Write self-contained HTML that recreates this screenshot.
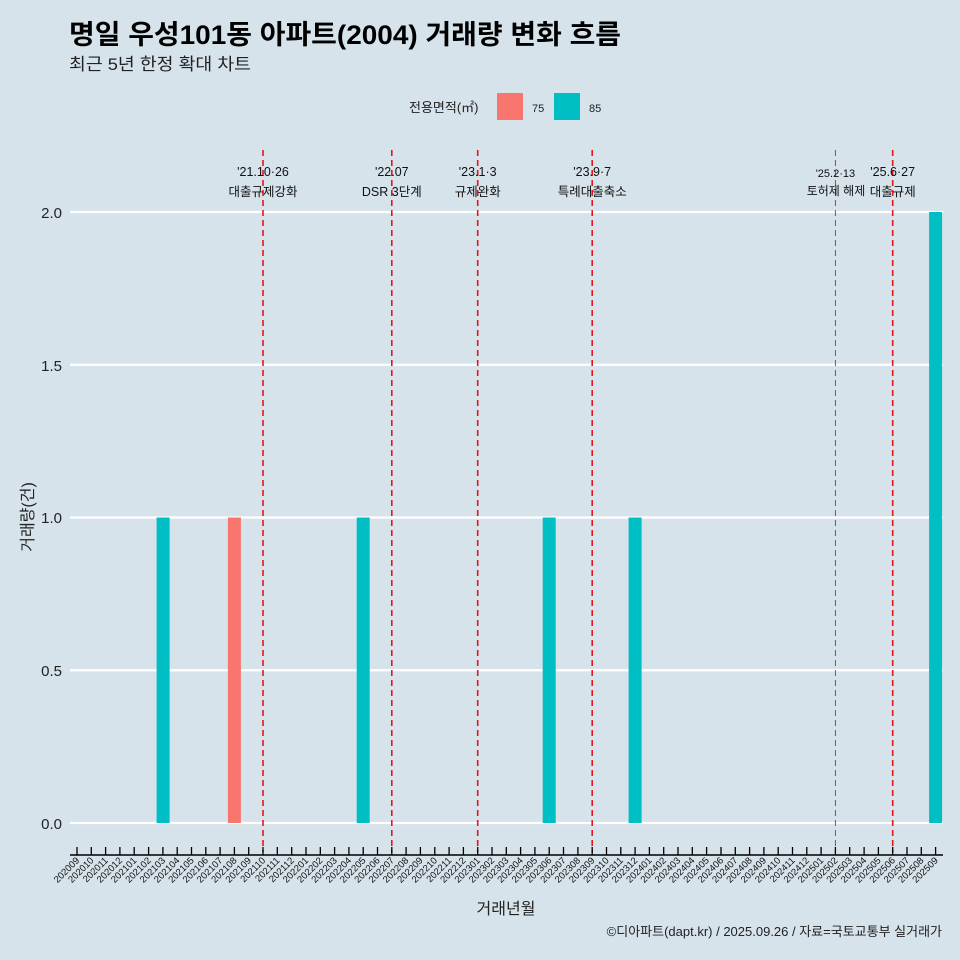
<!DOCTYPE html>
<html><head><meta charset="utf-8"><style>
body{margin:0;background:#d6e3ea}
svg{display:block;font-family:"Liberation Sans","Noto Sans CJK KR",sans-serif}
</style></head><body>
<svg width="960" height="960" viewBox="0 0 960 960">
<rect width="960" height="960" fill="#d6e3ea"/>
<text x="69" y="44" font-size="27" font-weight="bold" fill="#000" textLength="552" lengthAdjust="spacingAndGlyphs">명일 우성101동 아파트(2004) 거래량 변화 흐름</text>
<text x="69" y="70" font-size="17" fill="#222" textLength="182" lengthAdjust="spacingAndGlyphs">최근 5년 한정 확대 차트</text>
<text x="409" y="112" font-size="13" fill="#222">전용면적(㎡)</text>
<rect x="497" y="93" width="26" height="27" fill="#f8766d"/>
<text x="532" y="112" font-size="11" fill="#222">75</text>
<rect x="554" y="93" width="26" height="27" fill="#00bfc4"/>
<text x="589" y="112" font-size="11" fill="#222">85</text>
<g stroke="#fff" stroke-width="2.2">
<line x1="70" x2="943" y1="212" y2="212"/><line x1="70" x2="943" y1="364.75" y2="364.75"/>
<line x1="70" x2="943" y1="517.5" y2="517.5"/><line x1="70" x2="943" y1="670.25" y2="670.25"/>
<line x1="70" x2="943" y1="823" y2="823"/></g>
<g font-size="15" fill="#222" text-anchor="end">
<text x="62" y="218">2.0</text><text x="62" y="371">1.5</text><text x="62" y="523">1.0</text><text x="62" y="676">0.5</text><text x="62" y="829">0.0</text></g>
<text transform="translate(33,517) rotate(-90)" font-size="16" text-anchor="middle" fill="#222">거래량(건)</text>
<text x="506" y="914" font-size="16" text-anchor="middle" fill="#222">거래년월</text>
<text x="942" y="936" font-size="13" text-anchor="end" fill="#222">©디아파트(dapt.kr) / 2025.09.26 / 자료=국토교통부 실거래가</text>
<g>
<rect x="156.6" y="517.5" width="13" height="305.5" fill="#00bfc4"/>
<rect x="227.9" y="517.5" width="13" height="305.5" fill="#f8766d"/>
<rect x="356.7" y="517.5" width="13" height="305.5" fill="#00bfc4"/>
<rect x="542.7" y="517.5" width="13" height="305.5" fill="#00bfc4"/>
<rect x="628.6" y="517.5" width="13" height="305.5" fill="#00bfc4"/>
<rect x="929.1" y="212" width="13" height="611" fill="#00bfc4"/>
</g>
<g stroke="#e8141c" stroke-dasharray="6,4" stroke-width="1.6">
<line x1="263" x2="263" y1="150" y2="852"/><line x1="391.8" x2="391.8" y1="150" y2="852"/>
<line x1="477.7" x2="477.7" y1="150" y2="852"/><line x1="592.2" x2="592.2" y1="150" y2="852"/>
<line x1="835.4" x2="835.4" y1="150" y2="852" stroke-width="0.9"/><line x1="892.7" x2="892.7" y1="150" y2="852"/>
</g>
<g font-size="12.5" fill="#111" text-anchor="middle">
<text x="263" y="176">'21.10·26</text><text x="263" y="196">대출규제강화</text>
<text x="391.8" y="176">'22.07</text><text x="391.8" y="196">DSR 3단계</text>
<text x="477.7" y="176">'23.1·3</text><text x="477.7" y="196">규제완화</text>
<text x="592.2" y="176">'23.9·7</text><text x="592.2" y="196">특례대출축소</text>
<text x="835.4" y="177" font-size="11">'25.2·13</text><text x="836" y="195" font-size="12">토허제 해제</text>
<text x="892.7" y="176">'25.6·27</text><text x="892.7" y="196">대출규제</text>
</g>
<line x1="70" x2="943" y1="855" y2="855" stroke="#000" stroke-width="1.5"/>
<g stroke="#000" stroke-width="1.3">
<path d="M77 847V855M91.3 847V855M105.6 847V855M119.9 847V855M134.2 847V855M148.6 847V855M162.9 847V855M177.2 847V855M191.5 847V855M205.8 847V855M220.1 847V855M234.4 847V855M248.7 847V855M263 847V855M277.3 847V855M291.7 847V855M306 847V855M320.3 847V855M334.6 847V855M348.9 847V855M363.2 847V855M377.5 847V855M391.8 847V855M406.1 847V855M420.4 847V855M434.8 847V855M449.1 847V855M463.4 847V855M477.7 847V855M492 847V855M506.3 847V855M520.6 847V855M534.9 847V855M549.2 847V855M563.5 847V855M577.9 847V855M592.2 847V855M606.5 847V855M620.8 847V855M635.1 847V855M649.4 847V855M663.7 847V855M678 847V855M692.3 847V855M706.6 847V855M721 847V855M735.3 847V855M749.6 847V855M763.9 847V855M778.2 847V855M792.5 847V855M806.8 847V855M821.1 847V855M835.4 847V855M849.7 847V855M864.1 847V855M878.4 847V855M892.7 847V855M907 847V855M921.3 847V855M935.6 847V855"/>
</g>
<g font-size="9.5" fill="#111" text-anchor="end">
<text transform="translate(80,861) rotate(-45)">202009</text>
<text transform="translate(94.3,861) rotate(-45)">202010</text>
<text transform="translate(108.6,861) rotate(-45)">202011</text>
<text transform="translate(122.9,861) rotate(-45)">202012</text>
<text transform="translate(137.2,861) rotate(-45)">202101</text>
<text transform="translate(151.6,861) rotate(-45)">202102</text>
<text transform="translate(165.9,861) rotate(-45)">202103</text>
<text transform="translate(180.2,861) rotate(-45)">202104</text>
<text transform="translate(194.5,861) rotate(-45)">202105</text>
<text transform="translate(208.8,861) rotate(-45)">202106</text>
<text transform="translate(223.1,861) rotate(-45)">202107</text>
<text transform="translate(237.4,861) rotate(-45)">202108</text>
<text transform="translate(251.7,861) rotate(-45)">202109</text>
<text transform="translate(266,861) rotate(-45)">202110</text>
<text transform="translate(280.3,861) rotate(-45)">202111</text>
<text transform="translate(294.7,861) rotate(-45)">202112</text>
<text transform="translate(309,861) rotate(-45)">202201</text>
<text transform="translate(323.3,861) rotate(-45)">202202</text>
<text transform="translate(337.6,861) rotate(-45)">202203</text>
<text transform="translate(351.9,861) rotate(-45)">202204</text>
<text transform="translate(366.2,861) rotate(-45)">202205</text>
<text transform="translate(380.5,861) rotate(-45)">202206</text>
<text transform="translate(394.8,861) rotate(-45)">202207</text>
<text transform="translate(409.1,861) rotate(-45)">202208</text>
<text transform="translate(423.4,861) rotate(-45)">202209</text>
<text transform="translate(437.8,861) rotate(-45)">202210</text>
<text transform="translate(452.1,861) rotate(-45)">202211</text>
<text transform="translate(466.4,861) rotate(-45)">202212</text>
<text transform="translate(480.7,861) rotate(-45)">202301</text>
<text transform="translate(495,861) rotate(-45)">202302</text>
<text transform="translate(509.3,861) rotate(-45)">202303</text>
<text transform="translate(523.6,861) rotate(-45)">202304</text>
<text transform="translate(537.9,861) rotate(-45)">202305</text>
<text transform="translate(552.2,861) rotate(-45)">202306</text>
<text transform="translate(566.5,861) rotate(-45)">202307</text>
<text transform="translate(580.9,861) rotate(-45)">202308</text>
<text transform="translate(595.2,861) rotate(-45)">202309</text>
<text transform="translate(609.5,861) rotate(-45)">202310</text>
<text transform="translate(623.8,861) rotate(-45)">202311</text>
<text transform="translate(638.1,861) rotate(-45)">202312</text>
<text transform="translate(652.4,861) rotate(-45)">202401</text>
<text transform="translate(666.7,861) rotate(-45)">202402</text>
<text transform="translate(681,861) rotate(-45)">202403</text>
<text transform="translate(695.3,861) rotate(-45)">202404</text>
<text transform="translate(709.6,861) rotate(-45)">202405</text>
<text transform="translate(724,861) rotate(-45)">202406</text>
<text transform="translate(738.3,861) rotate(-45)">202407</text>
<text transform="translate(752.6,861) rotate(-45)">202408</text>
<text transform="translate(766.9,861) rotate(-45)">202409</text>
<text transform="translate(781.2,861) rotate(-45)">202410</text>
<text transform="translate(795.5,861) rotate(-45)">202411</text>
<text transform="translate(809.8,861) rotate(-45)">202412</text>
<text transform="translate(824.1,861) rotate(-45)">202501</text>
<text transform="translate(838.4,861) rotate(-45)">202502</text>
<text transform="translate(852.7,861) rotate(-45)">202503</text>
<text transform="translate(867.1,861) rotate(-45)">202504</text>
<text transform="translate(881.4,861) rotate(-45)">202505</text>
<text transform="translate(895.7,861) rotate(-45)">202506</text>
<text transform="translate(910,861) rotate(-45)">202507</text>
<text transform="translate(924.3,861) rotate(-45)">202508</text>
<text transform="translate(938.6,861) rotate(-45)">202509</text>
</g>
</svg>
</body></html>
